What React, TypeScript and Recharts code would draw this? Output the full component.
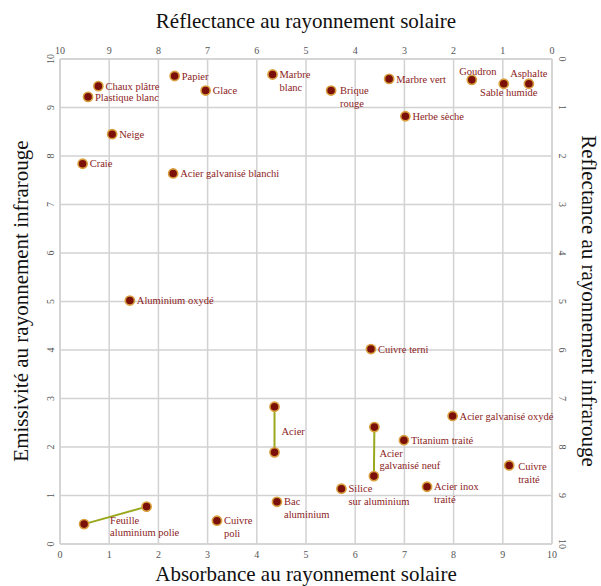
import { ScatterChart, Scatter, XAxis, YAxis, CartesianGrid } from 'recharts';

// Matériaux isolés : absorbance solaire (x) et émissivité infrarouge (y), échelle 0–10
const NAMES = [
  'Chaux plâtre', 'Plastique blanc', 'Papier', 'Glace', 'Marbre\nblanc', 'Brique\nrouge',
  'Marbre vert', 'Goudron', 'Sable humide', 'Asphalte', 'Herbe sèche', 'Neige', 'Craie',
  'Acier galvanisé blanchi', 'Aluminium oxydé', 'Cuivre terni', 'Acier galvanisé oxydé',
  'Titanium traité', 'Cuivre\ntraité', 'Silice\nsur aluminium', 'Acier inox\ntraité',
  'Bac\naluminium', 'Cuivre\npoli',
];
const ABSORBANCE = [
  0.78, 0.57, 2.33, 2.96, 4.32, 5.51,
  6.69, 8.37, 9.02, 9.53, 7.02, 1.06, 0.46,
  2.30, 1.42, 6.32, 7.98,
  6.99, 9.13, 5.72, 7.46,
  4.41, 3.19,
];
const EMISSIVITY = [
  9.44, 9.22, 9.65, 9.35, 9.68, 9.35,
  9.59, 9.57, 9.49, 9.49, 8.82, 8.45, 7.84,
  7.64, 5.02, 4.02, 2.64,
  2.14, 1.62, 1.14, 1.18,
  0.87, 0.48,
];

// Matériaux donnés par une plage (deux mesures reliées)
const RANGE_NAMES = ['Acier', 'Acier\ngalvanisé neuf', 'Feuille\naluminium polie'];
const RANGE_ABSORBANCE = [[4.36, 4.36], [6.39, 6.38], [0.49, 1.76]];
const RANGE_EMISSIVITY = [[2.83, 1.89], [2.41, 1.40], [0.41, 0.77]];

const TICKS = [0, 1, 2, 3, 4, 5, 6, 7, 8, 9, 10];

// placement des étiquettes par rapport au point (px)
const LABEL_OFFSETS: Record<string, { dx: number; dy: number; anchor?: 'start' | 'middle' }> = {
  'Goudron': { dx: 6, dy: -9, anchor: 'middle' },
  'Asphalte': { dx: 0, dy: -10, anchor: 'middle' },
  'Sable humide': { dx: 5, dy: 9, anchor: 'middle' },
  'Brique\nrouge': { dx: 9, dy: 0 },
  'Cuivre\ntraité': { dx: 9, dy: 1 },
  'Acier': { dx: 7, dy: 25 },
  'Acier\ngalvanisé neuf': { dx: 5, dy: 26 },
  'Feuille\naluminium polie': { dx: 26, dy: -4 },
};

const FONT = '"Liberation Serif", "Times New Roman", serif';
const GRID = '#d2d2d2';
const LABEL_COLOR = '#8b1c1c';

const points = NAMES.map((name, i) => ({ x: ABSORBANCE[i], y: EMISSIVITY[i], name }));
const ranges = RANGE_NAMES.map((name, i) =>
  RANGE_ABSORBANCE[i].map((x, j) => ({ x, y: RANGE_EMISSIVITY[i][j], name: j === 0 ? name : '' }))
);

function Marker(props: any) {
  const { cx, cy, payload } = props;
  const name: string = payload?.name ?? '';
  const off = LABEL_OFFSETS[name] ?? { dx: 7, dy: 0 };
  const lines = name ? name.split('\n') : [];
  return (
    <g>
      <circle cx={cx} cy={cy} r={4.6} fill="#7a1008" stroke="#d9a040" strokeWidth={1.6} />
      {lines.map((line, k) => (
        <text
          key={k}
          x={cx + off.dx}
          y={cy + off.dy + k * 12.5}
          dy="0.35em"
          textAnchor={off.anchor ?? 'start'}
          fontFamily={FONT}
          fontSize={10.5}
          fill={LABEL_COLOR}
        >
          {line}
        </text>
      ))}
    </g>
  );
}

// les axes haut/droite portent les mêmes points (réflectance = 10 - valeur)
const NoMark = () => <g />;

const tickStyle = { fontFamily: FONT, fontSize: 10, fill: '#555' };

function BottomTick({ x, y, payload }: any) {
  return <text x={x} y={y + 2} dy="0.35em" textAnchor="middle" {...tickStyle}>{payload.value}</text>;
}
function TopTick({ x, y, payload }: any) {
  return <text x={x} y={y - 1} dy="0.35em" textAnchor="middle" {...tickStyle}>{10 - payload.value}</text>;
}
function LeftTick({ x, y, payload }: any) {
  const tx = x - 2;
  return (
    <text x={tx} y={y} dy="0.35em" textAnchor="middle" transform={`rotate(-90 ${tx} ${y})`} {...tickStyle}>
      {payload.value}
    </text>
  );
}
function RightTick({ x, y, payload }: any) {
  const tx = x + 2;
  return (
    <text x={tx} y={y} dy="0.35em" textAnchor="middle" transform={`rotate(90 ${tx} ${y})`} {...tickStyle}>
      {10 - payload.value}
    </text>
  );
}

export default function App() {
  const W = 601;
  const H = 586;
  return (
    <div style={{ position: 'absolute', left: 0, top: 0, width: W, height: H, background: '#fff' }}>
      <ScatterChart width={W} height={H} margin={{ top: 29, right: 19, bottom: 12, left: 30 }}>
        <CartesianGrid xAxisId="bottom" yAxisId="left" stroke={GRID} strokeWidth={1.5} />
        <XAxis
          xAxisId="bottom"
          dataKey="x"
          type="number"
          domain={[0, 10]}
          ticks={TICKS}
          height={30}
          tickLine={false}
          axisLine={{ stroke: GRID, strokeWidth: 1.5 }}
          tick={<BottomTick />}
          interval={0}
        />
        <XAxis
          xAxisId="top"
          dataKey="x"
          orientation="top"
          type="number"
          domain={[0, 10]}
          ticks={TICKS}
          height={30}
          tickLine={false}
          axisLine={{ stroke: GRID, strokeWidth: 1.5 }}
          tick={<TopTick />}
          interval={0}
        />
        <YAxis
          yAxisId="left"
          dataKey="y"
          type="number"
          domain={[0, 10]}
          ticks={TICKS}
          width={30}
          tickLine={false}
          axisLine={{ stroke: GRID, strokeWidth: 1.5 }}
          tick={<LeftTick />}
          interval={0}
        />
        <YAxis
          yAxisId="right"
          dataKey="y"
          orientation="right"
          type="number"
          domain={[0, 10]}
          ticks={TICKS}
          width={30}
          tickLine={false}
          axisLine={{ stroke: GRID, strokeWidth: 1.5 }}
          tick={<RightTick />}
          interval={0}
        />
        <Scatter
          xAxisId="top"
          yAxisId="right"
          data={points}
          shape={<NoMark />}
          legendType="none"
          isAnimationActive={false}
        />
        {ranges.map((data, i) => (
          <Scatter
            key={RANGE_NAMES[i]}
            xAxisId="bottom"
            yAxisId="left"
            data={data}
            line={{ stroke: '#9aa81e', strokeWidth: 2 }}
            shape={<Marker />}
            isAnimationActive={false}
          />
        ))}
        <Scatter
          xAxisId="bottom"
          yAxisId="left"
          data={points}
          shape={<Marker />}
          isAnimationActive={false}
        />
      </ScatterChart>
      <svg width={W} height={H} style={{ position: 'absolute', left: 0, top: 0, pointerEvents: 'none' }}>
        <g fontFamily={FONT} fontSize={21} fill="#111">
          <text x={306} y={28} textAnchor="middle">Réflectance au rayonnement solaire</text>
          <text x={306} y={581} textAnchor="middle">Absorbance au rayonnement solaire</text>
          <text x={28} y={301} textAnchor="middle" transform="rotate(-90 28 301)">Emissivité au rayonnement infrarouge</text>
          <text x={582} y={301} textAnchor="middle" transform="rotate(90 582 301)">Reflectance au rayonnement infrarouge</text>
        </g>
      </svg>
    </div>
  );
}
